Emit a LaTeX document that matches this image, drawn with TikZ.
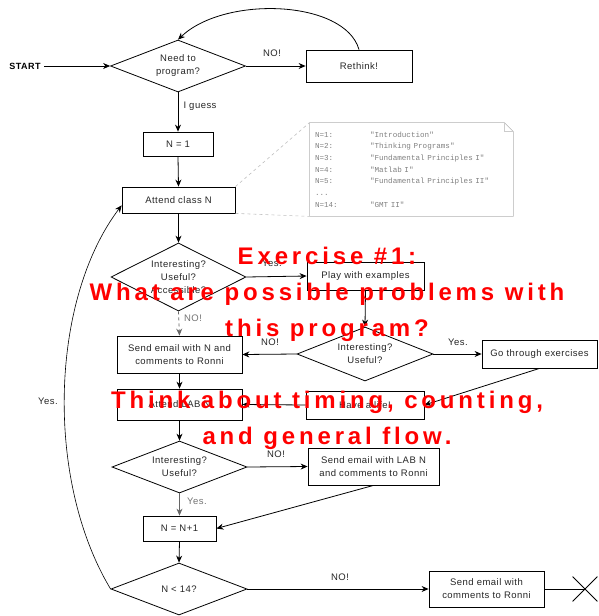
\documentclass[tikz,border=0pt]{standalone}
\usepackage{fontspec}
\setmainfont{Liberation Sans}
\newfontfamily\notefont{Liberation Mono}
\newfontfamily\flowfont[LetterSpace=5]{Liberation Sans}
\newfontfamily\shoutfont[LetterSpace=16]{Liberation Sans}
\usetikzlibrary{shapes.geometric,shapes.misc,arrows.meta}
\newcommand{\lecline}[2]{\makebox[55pt][l]{#1}#2\\}

\begin{document}
\begin{tikzpicture}[>={Stealth[length=7pt,width=6pt]}, x=1pt, y=-1pt, line width=.8pt]
\tikzset{
  box/.style={
    draw, rectangle, inner sep=0pt,
    align=center, text=black!85,
    font=\flowfont\fontsize{9.5}{13}\selectfont
  },
  decision/.style={
    draw, diamond, aspect=2, inner sep=0pt,
    align=center, text=black!85,
    font=\flowfont\fontsize{9.5}{13}\selectfont
  },
  lbl/.style={inner sep=1pt, text=black!85, font=\flowfont\fontsize{9.5}{11}\selectfont},
  greylbl/.style={lbl, text=black!55},
  shout/.style={inner sep=0pt, text=red, font=\shoutfont\bfseries\fontsize{24}{36}\selectfont, align=center}
}
\useasboundingbox (0,0) rectangle (598,616);

\node[font=\flowfont\bfseries\fontsize{9}{11}\selectfont] (start) at (25,66) {START};
\node[decision, minimum width=135pt, minimum height=52pt] (need) at (178,66) {Need to\\program?};
\node[box, minimum width=106pt, minimum height=32pt] (rethink) at (359,66) {Rethink!};
\node[box, minimum width=70pt, minimum height=24pt] (nfirst) at (178,144) {N = 1};
\node[box, minimum width=113pt, minimum height=26pt] (attend) at (178.5,200) {Attend class N};
\node[inner sep=5pt, text width=193pt, minimum height=93pt, align=left, text=black!50,
      font=\notefont\fontsize{7.6}{11.7}\selectfont] (note) at (411.5,169.5) {%
  \lecline{N=1:}{"Introduction"}
  \lecline{N=2:}{"Thinking Programs"}
  \lecline{N=3:}{"Fundamental Principles I"}
  \lecline{N=4:}{"Matlab I"}
  \lecline{N=5:}{"Fundamental Principles II"}
  ...\\
  \lecline{N=14:}{"GMT II"}};
\node[decision, minimum width=135pt, minimum height=68pt] (qclass) at (178.5,277) {Interesting?\\Useful?\\Accessible?};
\node[box, minimum width=117pt, minimum height=28pt] (play) at (365.5,276) {Play with examples};
\node[box, minimum width=125pt, minimum height=37pt] (mailn) at (179.5,354.5) {Send email with N and\\comments to Ronni};
\node[decision, minimum width=136pt, minimum height=54pt] (qplay) at (365,354) {Interesting?\\Useful?};
\node[box, minimum width=115pt, minimum height=28pt] (exer) at (539.5,354) {Go through exercises};
\node[box, minimum width=118pt, minimum height=28pt] (life) at (365,405) {Have a life!};
\node[box, minimum width=125pt, minimum height=31pt] (lab) at (179.5,404.5) {Attend LAB N};
\node[decision, minimum width=135pt, minimum height=52pt] (qlab) at (179.5,467) {Interesting?\\Useful?};
\node[box, minimum width=131pt, minimum height=37pt] (maillab) at (373.5,466.5) {Send email with LAB N\\and comments to Ronni};
\node[box, minimum width=73pt, minimum height=25pt] (incr) at (179.5,528.5) {N = N+1};
\node[decision, minimum width=136pt, minimum height=52pt] (qend) at (179,589) {N < 14?};
\node[box, minimum width=115pt, minimum height=36pt] (mailend) at (486.5,589) {Send email with\\comments to Ronni};
\node[draw, cross out, minimum size=24pt, inner sep=0pt] (stop) at (585,589) {};

\draw[black!30, line width=.6pt] (note.south west) -- (note.north west) -- ([xshift=-9pt]note.north east)
  -- ([yshift=-9pt]note.north east) -- (note.south east) -- cycle;
\draw[black!20, line width=.5pt] ([xshift=-9pt]note.north east) -- ([xshift=-9pt,yshift=-9pt]note.north east)
  -- ([yshift=-9pt]note.north east);
\draw[black!25, dashed, line width=.6pt] (attend.north east) -- (note.north west);
\draw[black!25, dashed, line width=.6pt] (attend.south east) -- (note.south west);

\draw[->] (start.east) -- (need.west);
\draw[->] (need.east) -- (rethink.west);
\draw[->] (rethink.north) .. controls (345,0) and (225,-5) .. (need.north);
\draw[->] (need.south) -- (nfirst.north);
\draw[->] (nfirst.south) -- (attend.north);
\draw[->] (attend.south) -- (qclass.north);
\draw[->] (qclass.east) -- (play.west);
\draw[->, dashed, black!60] (qclass.south) -- (mailn.north);
\draw[->] (play.south) -- (qplay.north);
\draw[->] (qplay.west) -- (mailn.east);
\draw[->] (qplay.east) -- (exer.west);
\draw[->] (exer.south) -- (life.east);
\draw[->] (life.west) -- (lab.east);
\draw[->] (mailn.south) -- (lab.north);
\draw[->] (lab.south) -- (qlab.north);
\draw[->] (qlab.east) -- (maillab.west);
\draw[->, black!60] (qlab.south) -- (incr.north);
\draw[->] (maillab.south) -- (incr.east);
\draw[->] (incr.south) -- (qend.north);
\draw[->] (qend.east) -- (mailend.west);
\draw (mailend.east) -- (stop.center);
\draw[->, line width=.6pt] (qend.west) .. controls (45,480) and (50,300) .. ([yshift=8pt]attend.south west);

\node[lbl] (noneed) at (272,53) {NO!};
\node[lbl] (guess) at (200,106) {I guess};
\node[lbl] (yesclass) at (272,263) {Yes.};
\node[greylbl] (noclass) at (193,318) {NO!};
\node[lbl] (noplay) at (270,342) {NO!};
\node[lbl] (yesplay) at (458,342) {Yes.};
\node[lbl] (nolab) at (276,454) {NO!};
\node[greylbl] (yeslab) at (197,501) {Yes.};
\node[lbl] (noend) at (340,577) {NO!};
\node[lbl] (yesend) at (48,401) {Yes.};

\node[shout] (ask) at (327,294) {Exercise \#1:\\What are possible problems with\\this program?};
\node[shout] (hint) at (327,420) {Think about timing, counting,\\and general flow.};
\end{tikzpicture}
\end{document}
